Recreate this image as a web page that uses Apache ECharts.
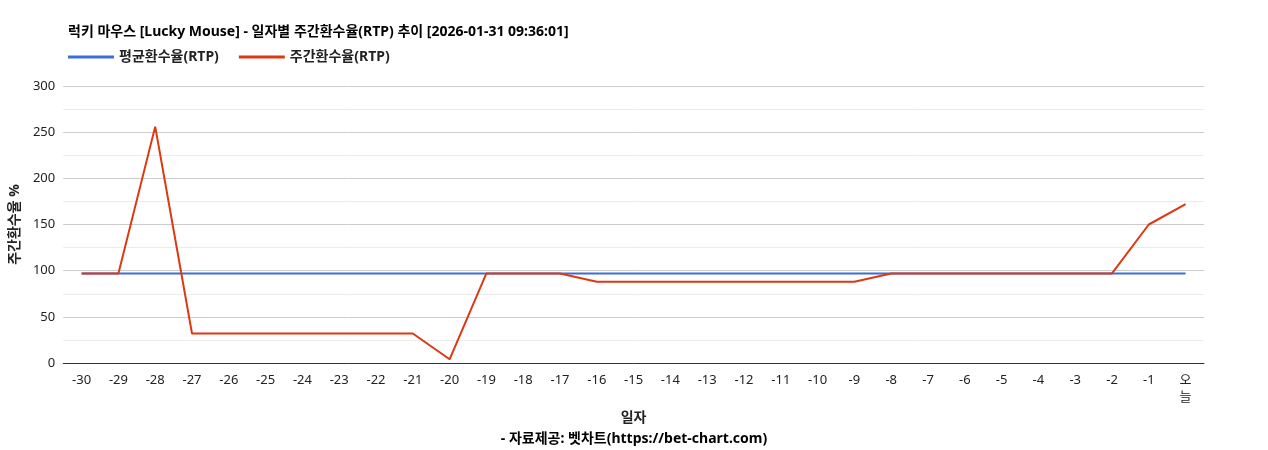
<!DOCTYPE html>
<html><head><meta charset="utf-8">
<script src="https://cdn.jsdelivr.net/npm/echarts@6/dist/echarts.min.js"></script>
<style>html,body{margin:0;padding:0;background:#fff}#c{width:1268px;height:450px}</style>
</head><body><div id="c"></div>
<script>
const categories = ['-30','-29','-28','-27','-26','-25','-24','-23','-22','-21','-20','-19','-18','-17','-16','-15','-14','-13','-12','-11','-10','-9','-8','-7','-6','-5','-4','-3','-2','-1','오늘'];
const avgRtp = [97,97,97,97,97,97,97,97,97,97,97,97,97,97,97,97,97,97,97,97,97,97,97,97,97,97,97,97,97,97,97];
const weeklyRtp = [97,97,256,32,32,32,32,32,32,32,4,97,97,97,88,88,88,88,88,88,88,88,97,97,97,97,97,97,97,150,172];
const chart = echarts.init(document.getElementById('c'));
const F = '"Noto Sans", "Noto Sans CJK KR", sans-serif';
chart.setOption({
  animation:false,
  textStyle:{fontFamily:F},
  title:[{text:'럭키 마우스 [Lucky Mouse] - 일자별 주간환수율(RTP) 추이 [2026-01-31 09:36:01]',left:63,top:20,textStyle:{fontSize:14,fontWeight:'bold',color:'#000',fontFamily:F}},
    {text:'- 자료제공: 벳차트(https://bet-chart.com)',left:'center',top:427,textStyle:{fontSize:14,fontWeight:'bold',color:'#000',fontFamily:F}}],
  legend:{left:63,top:45,itemWidth:46,itemHeight:3,itemGap:20,icon:'rect',textStyle:{fontSize:14,fontWeight:'bold',color:'#222',fontFamily:F},data:['평균환수율(RTP)','주간환수율(RTP)']},
  grid:{left:63,right:64,top:86,bottom:87},
  xAxis:{type:'category',data:categories,name:'일자',nameLocation:'middle',nameGap:44,
    nameTextStyle:{fontSize:14,fontWeight:'bold',color:'#222',fontFamily:F},
    axisLine:{lineStyle:{color:'#333'}},axisTick:{show:false},
    axisLabel:{color:'#222',fontSize:13,margin:9,interval:0,rotate:0,hideOverlap:false,lineHeight:17,fontFamily:F,formatter:v=>v==='오늘'?'오\n늘':v}},
  yAxis:{type:'value',min:0,max:300,interval:50,name:'주간환수율 %',nameLocation:'middle',nameGap:22,
    nameTextStyle:{fontSize:14,fontWeight:'bold',color:'#222',fontFamily:F},
    axisLabel:{color:'#222',fontSize:13,fontFamily:F},
    splitLine:{lineStyle:{color:'#ccc'}},
    minorTick:{show:false,splitNumber:2},minorSplitLine:{show:true,lineStyle:{color:'#ebebeb'}}},
  series:[
    {name:'평균환수율(RTP)',type:'line',data:avgRtp,symbol:'none',lineStyle:{width:2,color:'#3a6fd8'},itemStyle:{color:'#3a6fd8'}},
    {name:'주간환수율(RTP)',type:'line',data:weeklyRtp,symbol:'none',lineStyle:{width:2,color:'#dc3912'},itemStyle:{color:'#dc3912'}}
  ]
});
</script></body></html>
